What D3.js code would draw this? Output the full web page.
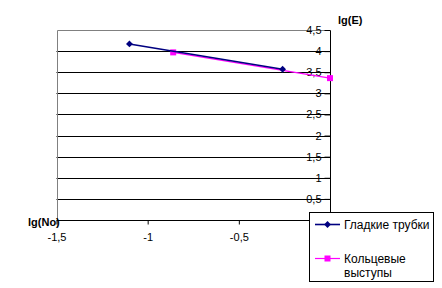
<!DOCTYPE html>
<html>
<head>
<meta charset="utf-8">
<script src="https://cdn.jsdelivr.net/npm/d3@7"></script>
<style>
  body { margin: 0; background: #fff; }
  text { font-family: "Liberation Sans", Arial, sans-serif; }
</style>
</head>
<body>
<svg id="chart"></svg>
<script>
// data
let seriesNames = ["Гладкие трубки", "Кольцевые выступы"];
let smoothX = [-1.1, -0.26];
let smoothY = [4.17, 3.57];
let ringX = [-0.86, 0];
let ringY = [3.97, 3.36];
let xTicks = [-1.5, -1, -0.5];
let yTicks = [0.5, 1, 1.5, 2, 2.5, 3, 3.5, 4, 4.5];

let width = 442, height = 288;
let margin = ({top: 30, right: 112, bottom: 68, left: 56.5});

const svg = d3.select('#chart').attr('width', width).attr('height', height);

let x = d3.scaleLinear().domain([-1.5, 0]).range([margin.left, width - margin.right]);
let y = d3.scaleLinear().domain([0, 4.5]).range([height - margin.bottom, margin.top]);

const fmt = d => String(d).replace('.', ',');

// gridlines
svg.append('g')
  .selectAll('line')
  .data(yTicks.filter(d => d < 4.5))
  .join('line')
  .attr('x1', x(-1.5)).attr('x2', x(0))
  .attr('y1', d => Math.round(y(d)) + 0.5).attr('y2', d => Math.round(y(d)) + 0.5)
  .attr('stroke', '#000').attr('stroke-width', 1);

// plot frame (gray top and left)
svg.append('path')
  .attr('d', `M${Math.round(x(-1.5)) + 0.5},${y(0)}V${Math.round(y(4.5)) + 0.5}H${x(0)}`)
  .attr('fill', 'none').attr('stroke', '#808080');

// y axis at x=0, labels on the left
let yAxis = g => g
  .attr('transform', `translate(${Math.round(x(0)) + 0.5},0)`)
  .call(d3.axisLeft(y).tickValues(yTicks).tickFormat(fmt).tickSize(6).tickSizeOuter(0).tickPadding(3))
  .call(g => g.select('.domain').attr('d', `M0,${y(0)}V${Math.round(y(4.5)) + 0.5}`))
  .call(g => g.selectAll('text').attr('font-size', 11).attr('fill', '#000').attr('font-family', '"Liberation Sans", Arial, sans-serif'));

let xAxis = g => g
  .attr('transform', `translate(0,${Math.round(y(0)) + 0.5})`)
  .call(d3.axisBottom(x).tickValues(xTicks).tickFormat(fmt).tickSize(4).tickSizeOuter(0).tickPadding(9))
  .call(g => g.select('.domain').attr('d', `M${x(-1.5)},0H${x(0)}`))
  .call(g => g.selectAll('text').attr('font-size', 11).attr('fill', '#000').attr('font-family', '"Liberation Sans", Arial, sans-serif'));

svg.append('g').call(xAxis);
svg.append('g').call(yAxis);

// axis titles
svg.append('text').attr('x', 338).attr('y', 24)
  .attr('font-size', 11).attr('font-weight', 'bold').text('lg(E)');
svg.append('text').attr('x', 28).attr('y', 225.5)
  .attr('font-size', 11).attr('font-weight', 'bold').text('lg(No)');

let line = d3.line().x(d => x(d[0])).y(d => y(d[1]));
let ringPts = d3.zip(ringX, ringY);
let smoothPts = d3.zip(smoothX, smoothY);

// ring series (magenta, squares)
svg.append('path').datum(ringPts).attr('d', line)
  .attr('fill', 'none').attr('stroke', '#ff00ff').attr('stroke-width', 1.2);
svg.append('g').selectAll('rect').data(ringPts).join('rect')
  .attr('x', d => x(d[0]) - 3).attr('y', d => y(d[1]) - 3)
  .attr('width', 6).attr('height', 6).attr('fill', '#ff00ff');

// smooth tubes series (navy, diamonds)
svg.append('path').datum(smoothPts).attr('d', line)
  .attr('fill', 'none').attr('stroke', '#000080').attr('stroke-width', 1.6);
let diamond = d3.symbol().type(d3.symbolDiamond2).size(30);
svg.append('g').selectAll('path').data(smoothPts).join('path')
  .attr('transform', d => `translate(${x(d[0])},${y(d[1])})`)
  .attr('d', diamond).attr('fill', '#000080');

// legend
const lg = svg.append('g');
lg.append('rect').attr('x', 309.5).attr('y', 212.5).attr('width', 124).attr('height', 69)
  .attr('fill', '#fff').attr('stroke', '#000');
let legendRows = [
  {color: '#000080', y: 224.5, shape: 'diamond', lines: ['Гладкие трубки']},
  {color: '#ff00ff', y: 258.5, shape: 'square', lines: ['Кольцевые', 'выступы']}
];
legendRows.forEach(r => {
  lg.append('line').attr('x1', 315).attr('x2', 340).attr('y1', r.y).attr('y2', r.y)
    .attr('stroke', r.color).attr('stroke-width', r.shape === 'diamond' ? 1.6 : 1.2);
  if (r.shape === 'diamond') {
    lg.append('path').attr('transform', `translate(327.5,${r.y})`).attr('d', diamond).attr('fill', r.color);
  } else {
    lg.append('rect').attr('x', 324.5).attr('y', r.y - 3).attr('width', 6).attr('height', 6).attr('fill', r.color);
  }
  r.lines.forEach((t, i) => {
    lg.append('text').attr('x', 344).attr('y', r.y + 4 + i * 14.5)
      .attr('font-size', 12).attr('fill', '#000').text(t);
  });
});
</script>
</body>
</html>
